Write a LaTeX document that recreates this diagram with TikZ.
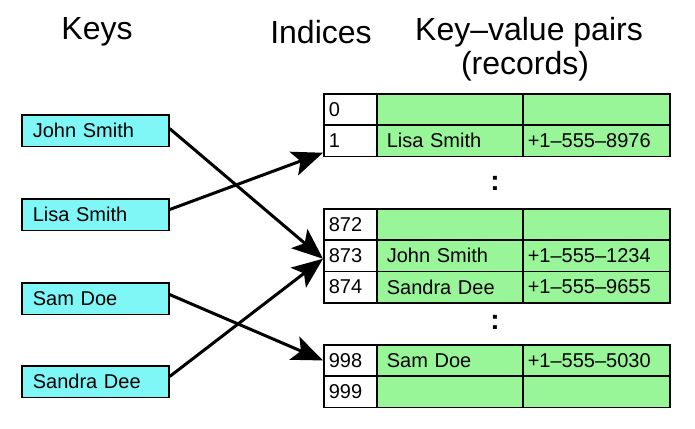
\documentclass[tikz,border=0pt]{standalone}
\usepackage{fontspec}
\setmainfont{Liberation Sans}
\usetikzlibrary{arrows.meta}
\definecolor{keycyan}{RGB}{128,247,247}
\definecolor{recgreen}{RGB}{152,245,152}
\tikzset{
  keybox/.style={draw=black, line width=1.6pt, fill=keycyan, anchor=north west,
    text width=125pt, inner xsep=11pt, minimum height=31.5pt, align=left,
    font=\fontsize{20}{22}\selectfont},
  idxcell/.style={draw=black, line width=1.6pt, fill=white, anchor=north west,
    text width=43pt, inner xsep=5pt, minimum height=31.3pt, align=left,
    font=\fontsize{20}{22}\selectfont},
  namecell/.style={draw=black, line width=1.6pt, fill=recgreen, anchor=north west,
    text width=126pt, inner xsep=10pt, minimum height=31.3pt, align=left,
    font=\fontsize{20}{22}\selectfont},
  phonecell/.style={draw=black, line width=1.6pt, fill=recgreen, anchor=north west,
    text width=137pt, inner xsep=5pt, minimum height=31.3pt, align=left,
    font=\fontsize{20}{22}\selectfont},
  title/.style={font=\fontsize{32}{34}\selectfont, align=center},
  dots/.style={font=\bfseries\fontsize{28}{30}\selectfont},
  link/.style={line width=3pt, -{Stealth[length=31pt,width=25pt,inset=7pt]}},
}
\begin{document}
\begin{tikzpicture}[x=1pt,y=-1pt]
\useasboundingbox (0,0) rectangle (695,428);
% titles
\node[title] (tkeys) at (97,32) {Keys};
\node[title] (tidx) at (321,32) {Indices};
\node[title] (tkv) at (529,32) {Key–value pairs};
\node[title] (trec) at (525,66) {(records)};
% keys
\node[keybox] (kjohn) at (21,114) {John Smith};
\node[keybox] (klisa) at (21,198) {Lisa Smith};
\node[keybox] (ksam) at (21,282) {Sam Doe};
\node[keybox] (ksandra) at (21,365) {Sandra Dee};
% table part 1
\node[idxcell] (i0) at (323,93) {0};
\node[namecell] (n0) at (376,93) {};
\node[phonecell] (p0) at (522,93) {};
\node[idxcell] (i1) at (323,124.3) {1};
\node[namecell] (n1) at (376,124.3) {Lisa Smith};
\node[phonecell] (p1) at (522,124.3) {+1–555–8976};
\node[dots] (d1) at (495,183) {:};
% table part 2
\node[idxcell] (i872) at (323,208) {872};
\node[namecell] (n872) at (376,208) {};
\node[phonecell] (p872) at (522,208) {};
\node[idxcell] (i873) at (323,239.3) {873};
\node[namecell] (n873) at (376,239.3) {John Smith};
\node[phonecell] (p873) at (522,239.3) {+1–555–1234};
\node[idxcell] (i874) at (323,270.6) {874};
\node[namecell] (n874) at (376,270.6) {Sandra Dee};
\node[phonecell] (p874) at (522,270.6) {+1–555–9655};
\node[dots] (d2) at (495,322) {:};
% table part 3
\node[idxcell] (i998) at (323,344) {998};
\node[namecell] (n998) at (376,344) {Sam Doe};
\node[phonecell] (p998) at (522,344) {+1–555–5030};
\node[idxcell] (i999) at (323,375.3) {999};
\node[namecell] (n999) at (376,375.3) {};
\node[phonecell] (p999) at (522,375.3) {};
% links
\draw[link] ([yshift=2pt]kjohn.east) -- ([yshift=-3pt]i873.west);
\draw[link] ([yshift=5pt]klisa.east) -- ([yshift=-12pt]i1.west);
\draw[link] ([yshift=4pt]ksam.east) -- (i998.west);
\draw[link] ([yshift=5pt]ksandra.east) -- ([yshift=-3pt]i873.west);
\end{tikzpicture}
\end{document}
